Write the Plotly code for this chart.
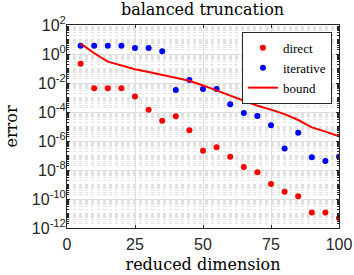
import plotly.graph_objects as go

dims = [5, 10, 15, 20, 25, 30, 35, 40, 45, 50, 55, 60, 65, 70, 75, 80, 85, 90, 95, 100]

direct = [2.1e-1, 4.3e-3, 4.3e-3, 4.3e-3, 1.15e-3, 1.45e-4, 2.5e-5, 5.0e-5, 5.5e-6,
          2.1e-7, 3.7e-7, 8.3e-8, 1.6e-8, 6.9e-9, 1.07e-9, 3.2e-10, 1.55e-10,
          1.15e-11, 1.15e-11, 4.9e-12]

iterative = [3.7, 3.7, 3.7, 3.7, 2.6, 2.6, 1.55, 3.3e-3, 1.6e-2,
             3.9e-3, 3.9e-3, 3.4e-4, 8.5e-5, 5.2e-5, 1.2e-5, 3.0e-7, 3.7e-6,
             7.6e-8, 4.2e-8, 8.3e-8]

bound = [5.2, 1.12, 0.295, 0.158, 0.089, 0.058, 0.037, 0.0234, 0.0143,
         0.0068, 0.0031, 0.00135, 0.00058, 0.00027, 0.000145, 7.2e-5, 2.8e-5,
         8.7e-6, 4.4e-6, 2.1e-6]

ytick_exp = [2, 0, -2, -4, -6, -8, -10, -12]
xticks = [0, 25, 50, 75, 100]

serif = "DejaVu Serif"
lserif = "Liberation Serif"
sans = "Liberation Sans"

fig = go.Figure()
fig.add_trace(go.Scatter(x=dims, y=direct, mode="markers", name="direct",
                         marker=dict(color="#ff0000", size=6)))
fig.add_trace(go.Scatter(x=dims, y=iterative, mode="markers", name="iterative",
                         marker=dict(color="#0000ff", size=6)))
fig.add_trace(go.Scatter(x=dims, y=bound, mode="lines", name="bound",
                         line=dict(color="#ff0000", width=2)))

minor_vals = []
for e in range(-12, 2):
    for d in range(1, 10):
        if d == 1 and e % 2 == 0:
            continue
        minor_vals.append(d * 10.0 ** e)

axcol = "#262626"
fig.update_layout(
    width=354, height=275,
    margin=dict(l=67, r=15, t=25, b=47, autoexpand=False),
    paper_bgcolor="white", plot_bgcolor="white",
    title=dict(text="balanced truncation", x=0.572, xanchor="center",
               y=0.967, yanchor="middle", yref="container",
               font=dict(family=serif, size=16, color="black")),
    showlegend=True,
    legend=dict(x=0.974, y=0.966, xanchor="right", yanchor="top",
                bgcolor="white", bordercolor=axcol, borderwidth=1,
                font=dict(family=lserif, size=13, color="black"),
                tracegroupgap=0, itemwidth=30),
    xaxis=dict(range=[0, 100], tickvals=xticks, ticktext=[str(v) for v in xticks],
               showline=True, mirror="ticks", linecolor=axcol, linewidth=1,
               ticks="inside", ticklen=3, tickcolor=axcol,
               showgrid=True, gridcolor="#dedede", gridwidth=1,
               zeroline=False, automargin=False, ticklabelstandoff=2,
               tickfont=dict(family=sans, size=16, color=axcol),
               title=dict(text="reduced dimension", standoff=6,
                          font=dict(family=serif, size=16, color="black"))),
    yaxis=dict(type="log", range=[-12, 2],
               tickvals=[10.0 ** e for e in ytick_exp],
               ticktext=["10<sup>%d</sup>" % e for e in ytick_exp],
               showline=True, mirror="ticks", linecolor=axcol, linewidth=1,
               ticks="inside", ticklen=3, tickcolor=axcol,
               showgrid=True, gridcolor="#dedede", gridwidth=1,
               zeroline=False, automargin=False, ticklabelstandoff=-3,
               minor=dict(tickvals=minor_vals, showgrid=True, gridcolor="#e2e2e2",
                          griddash="dot", gridwidth=1, ticks="inside", ticklen=2,
                          tickcolor=axcol),
               tickfont=dict(family=sans, size=16, color=axcol),
               title=dict(text="error", standoff=10,
                          font=dict(family=serif, size=16, color="black"))),
)

fig.write_html("out.html", config={"displayModeBar": False},
               post_script="document.body.style.margin='0';document.body.style.padding='0';")
